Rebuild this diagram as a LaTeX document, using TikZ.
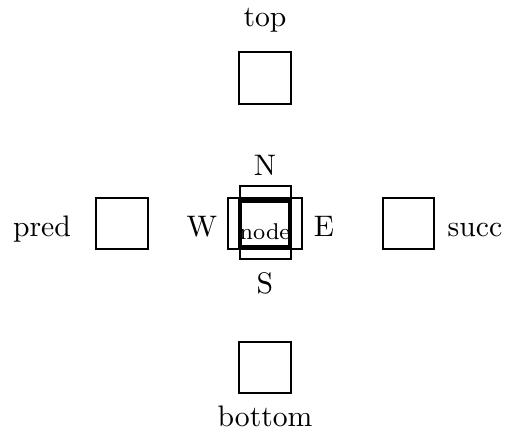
\documentclass[tikz,border=0pt]{standalone}
\begin{document}
\begin{tikzpicture}[x=0.337pt,y=-0.337pt,
  lbl/.style={inner sep=0pt,anchor=base},
  box/.style={draw,line width=0.6pt,minimum size=17.4pt,inner sep=0pt},
  frame/.style={draw,line width=0.6pt},
  nodebox/.style={draw,line width=1.2pt}]
\useasboundingbox (0,0) rectangle (506,434);
% surrounding boxes
\node[box] (top) at (265,78) {};
\node[box] (bottom) at (265,367.5) {};
\node[box] (pred) at (122,223.5) {};
\node[box] (succ) at (408.5,223.5) {};
\node[lbl] (toplbl) at (265,27) {top};
\node[lbl] (bottomlbl) at (265,427) {bottom};
\node[lbl] (predlbl) at (42,237) {pred};
\node[lbl] (succlbl) at (475,237) {succ};
% central node
\draw[frame] (240,186) rectangle (291,259);
\draw[frame] (228,198) rectangle (302,249);
\draw[nodebox] (240,201) rectangle (290,247);
\node[inner sep=0pt,anchor=base,font=\fontsize{7.7}{9}\selectfont] (node) at (265,240) {node};
\node[lbl] (N) at (265,176) {N};
\node[lbl] (S) at (265,294) {S};
\node[lbl] (W) at (202,237) {W};
\node[lbl] (E) at (324,237) {E};
\end{tikzpicture}
\end{document}
